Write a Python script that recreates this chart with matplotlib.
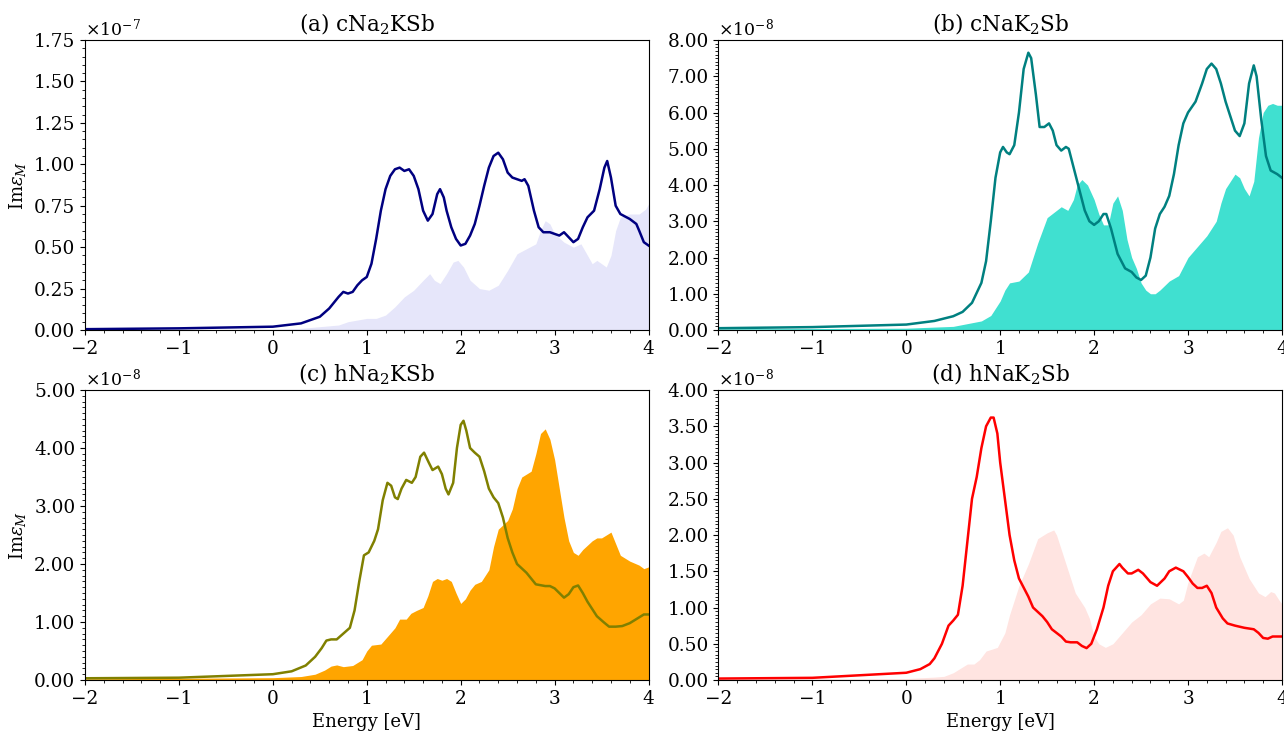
import numpy as np
import matplotlib
matplotlib.use("Agg")
import matplotlib.pyplot as plt
from matplotlib.ticker import ScalarFormatter, AutoMinorLocator, MultipleLocator

plt.rcParams['font.family'] = 'DejaVu Serif'
plt.rcParams['mathtext.fontset'] = 'dejavuserif'

# (a) cNa2KSb, units of 1e-7
a_line_x = [-2, -1, 0, 0.3, 0.5, 0.6, 0.7, 0.75, 0.8, 0.85, 0.9, 0.95, 1.0, 1.05, 1.1, 1.15, 1.2, 1.25,
            1.3, 1.35, 1.4, 1.45, 1.5, 1.55, 1.6, 1.65, 1.7, 1.75, 1.78, 1.82, 1.85, 1.9, 1.95, 2.0,
            2.05, 2.1, 2.15, 2.2, 2.25, 2.3, 2.35, 2.4, 2.45, 2.5, 2.55, 2.6, 2.65, 2.68, 2.72, 2.78,
            2.83, 2.88, 2.95, 3.0, 3.05, 3.1, 3.15, 3.2, 3.25, 3.3, 3.35, 3.42, 3.48, 3.53, 3.56, 3.6,
            3.65, 3.7, 3.8, 3.87, 3.9, 3.95, 4.0]
a_line_y = [0.005, 0.01, 0.02, 0.04, 0.08, 0.13, 0.2, 0.23, 0.22, 0.23, 0.27, 0.3, 0.32, 0.4, 0.55, 0.72,
            0.85, 0.93, 0.97, 0.98, 0.96, 0.97, 0.93, 0.85, 0.72, 0.66, 0.7, 0.82, 0.85, 0.8, 0.72, 0.62,
            0.55, 0.51, 0.52, 0.57, 0.64, 0.75, 0.87, 0.98, 1.05, 1.07, 1.03, 0.95, 0.92, 0.91, 0.9,
            0.91, 0.87, 0.72, 0.62, 0.59, 0.59, 0.58, 0.57, 0.59, 0.56, 0.53, 0.55, 0.62, 0.68, 0.72,
            0.85, 0.98, 1.02, 0.92, 0.75, 0.7, 0.67, 0.64, 0.6, 0.53, 0.51]
a_fill_x = [-2, 0, 0.3, 0.5, 0.7, 0.8, 0.9, 1.0, 1.1, 1.2, 1.3, 1.4, 1.5, 1.6, 1.67, 1.72, 1.78, 1.85,
            1.92, 1.97, 2.03, 2.1, 2.2, 2.3, 2.4, 2.5, 2.6, 2.7, 2.8, 2.85, 2.9, 2.95, 3.0, 3.1, 3.2,
            3.28, 3.35, 3.4, 3.45, 3.5, 3.55, 3.6, 3.65, 3.7, 3.8, 3.9, 3.97, 4.0]
a_fill_y = [0.002, 0.005, 0.01, 0.02, 0.03, 0.05, 0.06, 0.07, 0.07, 0.09, 0.14, 0.2, 0.24, 0.3, 0.34,
            0.3, 0.28, 0.34, 0.41, 0.42, 0.38, 0.3, 0.25, 0.24, 0.27, 0.36, 0.46, 0.49, 0.52, 0.6, 0.66,
            0.64, 0.58, 0.53, 0.5, 0.52, 0.45, 0.4, 0.42, 0.4, 0.38, 0.45, 0.6, 0.68, 0.7, 0.7, 0.73, 0.76]

# (b) cNaK2Sb, units of 1e-8
b_line_x = [-2, -1, 0, 0.3, 0.5, 0.6, 0.7, 0.8, 0.85, 0.9, 0.95, 1.0, 1.03, 1.07, 1.1, 1.15, 1.2, 1.25,
            1.3, 1.33, 1.38, 1.42, 1.47, 1.52, 1.56, 1.6, 1.65, 1.7, 1.73, 1.78, 1.85, 1.9, 1.95, 2.0,
            2.05, 2.1, 2.13, 2.18, 2.25, 2.33, 2.4, 2.45, 2.5, 2.55, 2.6, 2.65, 2.7, 2.75, 2.8, 2.85,
            2.9, 2.95, 3.0, 3.08, 3.15, 3.2, 3.25, 3.3, 3.35, 3.4, 3.45, 3.5, 3.55, 3.6, 3.65, 3.7,
            3.73, 3.78, 3.83, 3.88, 3.95, 4.0]
b_line_y = [0.05, 0.08, 0.15, 0.25, 0.38, 0.5, 0.75, 1.3, 1.9, 3.0, 4.2, 4.9, 5.05, 4.9, 4.85, 5.1, 6.0,
            7.2, 7.65, 7.5, 6.5, 5.6, 5.6, 5.7, 5.5, 5.1, 4.95, 5.05, 5.0, 4.5, 3.8, 3.3, 3.0, 2.9, 3.0,
            3.2, 3.2, 2.8, 2.1, 1.7, 1.6, 1.45, 1.38, 1.5, 2.0, 2.8, 3.2, 3.4, 3.7, 4.3, 5.1, 5.7, 6.0,
            6.3, 6.8, 7.2, 7.35, 7.2, 6.8, 6.3, 5.9, 5.5, 5.35, 5.7, 6.8, 7.3, 7.0, 5.8, 4.8, 4.4, 4.3,
            4.2]
b_fill_x = [-2, 0, 0.5, 0.8, 0.9, 1.0, 1.05, 1.1, 1.2, 1.3, 1.4, 1.5, 1.55, 1.6, 1.65, 1.72, 1.78, 1.82,
            1.87, 1.93, 2.0, 2.05, 2.1, 2.15, 2.2, 2.25, 2.3, 2.35, 2.4, 2.45, 2.5, 2.55, 2.6, 2.65, 2.7,
            2.8, 2.9, 3.0, 3.1, 3.2, 3.3, 3.35, 3.4, 3.5, 3.55, 3.6, 3.65, 3.7, 3.75, 3.8, 3.85, 3.9,
            3.95, 4.0]
b_fill_y = [0.03, 0.05, 0.1, 0.25, 0.4, 0.8, 1.1, 1.3, 1.35, 1.6, 2.4, 3.1, 3.2, 3.3, 3.4, 3.3, 3.6,
            4.0, 4.15, 4.0, 3.6, 3.2, 2.9, 2.9, 3.5, 3.7, 3.3, 2.5, 2.0, 1.7, 1.3, 1.1, 1.0, 1.0, 1.1,
            1.35, 1.5, 2.0, 2.3, 2.6, 3.0, 3.5, 3.9, 4.3, 4.2, 3.9, 3.7, 4.1, 5.3, 6.0, 6.2, 6.25, 6.2,
            6.2]

# (c) hNa2KSb, units of 1e-8
c_line_x = [-2, -1, 0, 0.2, 0.35, 0.45, 0.52, 0.57, 0.62, 0.68, 0.75, 0.82, 0.87, 0.92, 0.97, 1.02,
            1.08, 1.12, 1.17, 1.22, 1.26, 1.3, 1.33, 1.37, 1.42, 1.48, 1.52, 1.57, 1.61, 1.66, 1.7,
            1.76, 1.8, 1.84, 1.87, 1.92, 1.96, 2.0, 2.03, 2.06, 2.1, 2.15, 2.2, 2.25, 2.3, 2.35, 2.4,
            2.45, 2.5, 2.55, 2.6, 2.7, 2.8, 2.9, 2.95, 3.0, 3.05, 3.1, 3.15, 3.2, 3.25, 3.3, 3.35, 3.45,
            3.52, 3.58, 3.65, 3.72, 3.8, 3.9, 3.95, 4.0]
c_line_y = [0.03, 0.04, 0.1, 0.15, 0.25, 0.4, 0.55, 0.68, 0.7, 0.7, 0.8, 0.9, 1.2, 1.7, 2.15, 2.2, 2.4,
            2.6, 3.1, 3.4, 3.35, 3.15, 3.12, 3.3, 3.45, 3.4, 3.5, 3.85, 3.92, 3.75, 3.62, 3.68, 3.55,
            3.3, 3.2, 3.4, 4.0, 4.4, 4.47, 4.3, 4.0, 3.92, 3.85, 3.6, 3.3, 3.15, 3.05, 2.8, 2.45, 2.2,
            2.0, 1.85, 1.65, 1.62, 1.62, 1.58, 1.5, 1.42, 1.48, 1.6, 1.63, 1.5, 1.35, 1.1, 1.0, 0.92,
            0.92, 0.93, 0.98, 1.08, 1.13, 1.13]
c_fill_x = [-2, 0, 0.3, 0.45, 0.55, 0.62, 0.68, 0.75, 0.85, 0.95, 1.0, 1.05, 1.15, 1.22, 1.3, 1.35,
            1.42, 1.47, 1.53, 1.6, 1.65, 1.7, 1.75, 1.8, 1.85, 1.9, 1.95, 2.0, 2.05, 2.1, 2.15, 2.22,
            2.3, 2.35, 2.4, 2.5, 2.55, 2.6, 2.65, 2.75, 2.8, 2.85, 2.9, 2.95, 3.0, 3.05, 3.1, 3.15, 3.2,
            3.25, 3.3, 3.4, 3.45, 3.5, 3.55, 3.6, 3.65, 3.7, 3.8, 3.9, 3.95, 4.0]
c_fill_y = [0.02, 0.04, 0.06, 0.1, 0.17, 0.24, 0.26, 0.23, 0.25, 0.35, 0.5, 0.6, 0.62, 0.75, 0.9, 1.05,
            1.05, 1.15, 1.2, 1.25, 1.45, 1.7, 1.75, 1.72, 1.75, 1.7, 1.5, 1.32, 1.4, 1.55, 1.65, 1.7,
            1.9, 2.3, 2.6, 2.75, 2.95, 3.3, 3.5, 3.6, 3.9, 4.25, 4.33, 4.15, 3.8, 3.3, 2.8, 2.4, 2.2,
            2.15, 2.25, 2.4, 2.45, 2.45, 2.5, 2.55, 2.35, 2.15, 2.05, 1.98, 1.92, 1.95]

# (d) hNaK2Sb, units of 1e-8
d_line_x = [-2, -1, 0, 0.15, 0.25, 0.3, 0.38, 0.45, 0.5, 0.55, 0.6, 0.65, 0.7, 0.75, 0.8, 0.85, 0.9,
            0.93, 0.97, 1.0, 1.05, 1.1, 1.15, 1.2, 1.3, 1.35, 1.45, 1.5, 1.55, 1.65, 1.7, 1.75, 1.82,
            1.87, 1.92, 1.97, 2.03, 2.1, 2.15, 2.2, 2.27, 2.3, 2.36, 2.4, 2.47, 2.52, 2.6, 2.67, 2.75,
            2.8, 2.87, 2.95, 3.0, 3.05, 3.1, 3.15, 3.2, 3.25, 3.3, 3.37, 3.42, 3.5, 3.6, 3.7, 3.75, 3.8,
            3.85, 3.9, 4.0]
d_line_y = [0.02, 0.03, 0.1, 0.15, 0.22, 0.3, 0.5, 0.75, 0.82, 0.9, 1.3, 1.9, 2.5, 2.8, 3.2, 3.5, 3.62,
            3.62, 3.4, 3.0, 2.5, 2.0, 1.65, 1.4, 1.15, 1.0, 0.88, 0.8, 0.7, 0.6, 0.53, 0.52, 0.52, 0.47,
            0.44, 0.5, 0.7, 1.0, 1.3, 1.5, 1.6, 1.55, 1.47, 1.47, 1.52, 1.47, 1.35, 1.3, 1.4, 1.5, 1.55,
            1.5, 1.42, 1.33, 1.27, 1.27, 1.3, 1.2, 1.0, 0.85, 0.78, 0.75, 0.72, 0.7, 0.65, 0.58, 0.57,
            0.6, 0.6]
d_fill_x = [-2, 0, 0.3, 0.4, 0.5, 0.6, 0.65, 0.72, 0.78, 0.85, 0.9, 0.97, 1.05, 1.1, 1.2, 1.3, 1.4,
            1.5, 1.57, 1.6, 1.7, 1.8, 1.9, 1.95, 2.0, 2.05, 2.12, 2.2, 2.3, 2.4, 2.5, 2.6, 2.7, 2.8, 2.9,
            2.95, 3.0, 3.1, 3.17, 3.22, 3.3, 3.35, 3.42, 3.48, 3.55, 3.65, 3.75, 3.82, 3.88, 3.92, 3.97,
            4.0]
d_fill_y = [0.01, 0.02, 0.04, 0.05, 0.1, 0.18, 0.22, 0.22, 0.28, 0.4, 0.42, 0.45, 0.65, 0.9, 1.3, 1.6,
            1.95, 2.03, 2.07, 2.0, 1.6, 1.2, 1.0, 0.85, 0.6, 0.5, 0.45, 0.5, 0.65, 0.8, 0.9, 1.05, 1.13,
            1.12, 1.05, 1.1, 1.35, 1.7, 1.75, 1.7, 1.9, 2.05, 2.1, 2.0, 1.7, 1.4, 1.2, 1.15, 1.22, 1.2,
            1.1, 1.05]

titles = ['(a) cNa$_2$KSb', '(b) cNaK$_2$Sb', '(c) hNa$_2$KSb', '(d) hNaK$_2$Sb']
scales = [1e-7, 1e-8, 1e-8, 1e-8]
ytops = [1.75, 8.0, 5.0, 4.0]
ysteps = [0.25, 1.0, 1.0, 0.5]
yminor = [5, 10, 10, 10]
line_colors = ['navy', 'teal', 'olive', 'red']
fill_colors = ['lavender', 'turquoise', 'orange', 'mistyrose']
lines = [(a_line_x, a_line_y), (b_line_x, b_line_y), (c_line_x, c_line_y), (d_line_x, d_line_y)]
fills = [(a_fill_x, a_fill_y), (b_fill_x, b_fill_y), (c_fill_x, c_fill_y), (d_fill_x, d_fill_y)]


class FixedFormatter(ScalarFormatter):
    def _set_format(self):
        self.format = '%.2f'


fig, axes = plt.subplots(2, 2, figsize=(12.84, 7.33), dpi=100)
fig.subplots_adjust(left=0.0662, right=0.9984, top=0.9454, bottom=0.0723,
                    wspace=0.124, hspace=0.207)

for i, ax in enumerate(axes.flat):
    s = scales[i]
    fx, fy = fills[i]
    lx, ly = lines[i]
    ax.fill_between(fx, np.array(fy) * s, color=fill_colors[i], lw=0)
    ax.plot(lx, np.array(ly) * s, color=line_colors[i], lw=1.8)
    ax.set_xlim(-2, 4)
    ax.set_ylim(0, ytops[i] * s)
    ax.yaxis.set_major_locator(MultipleLocator(ysteps[i] * s))
    ax.yaxis.set_minor_locator(AutoMinorLocator(yminor[i]))
    ax.xaxis.set_minor_locator(AutoMinorLocator(5))
    fmt = FixedFormatter(useMathText=True)
    fmt.set_powerlimits((0, 0))
    ax.yaxis.set_major_formatter(fmt)
    ax.yaxis.get_offset_text().set_fontsize(12.5)
    ax.tick_params(labelsize=13.3)
    ax.set_title(titles[i], fontsize=15.5)
    if i % 2 == 0:
        ax.set_ylabel(r'Im$\varepsilon_M$', fontsize=13)
    if i >= 2:
        ax.set_xlabel('Energy [eV]', fontsize=13)

fig.savefig('out.png', dpi=100)
